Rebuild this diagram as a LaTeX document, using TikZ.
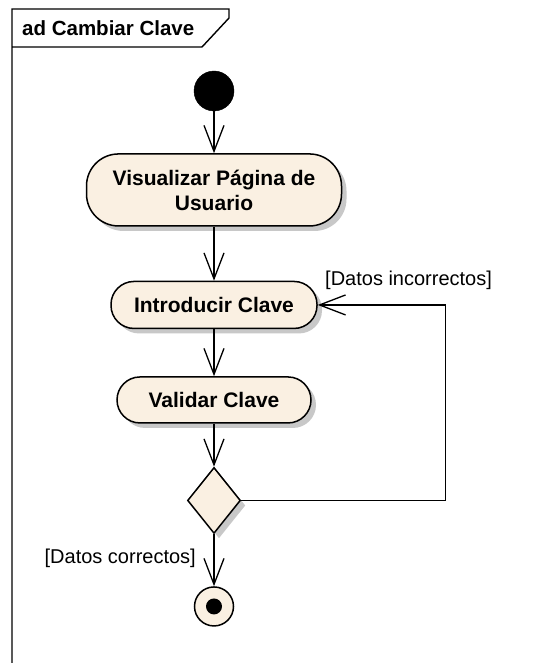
\documentclass[tikz,border=0pt]{standalone}
\usepackage{fontspec}
\setmainfont{Liberation Sans}
\usepackage{tikz}
\usetikzlibrary{arrows.meta,positioning,shapes.geometric,shadows}
\definecolor{crema}{RGB}{250,240,226}
\definecolor{sombra}{RGB}{200,200,200}
\tikzset{
    actividad/.style={
        rectangle,
        draw,
        line width=1.5pt,
        rounded corners=23pt,
        align=center,
        fill=crema,
        font=\fontsize{21}{25}\selectfont\bfseries,
        inner sep=0pt,
        drop shadow={shadow xshift=5pt, shadow yshift=-5pt, fill=sombra, opacity=1}
    },
    decision/.style={
        diamond,
        draw,
        line width=1.5pt,
        inner sep=0pt,
        minimum width=53pt,
        minimum height=66pt,
        fill=crema,
        drop shadow={shadow xshift=5pt, shadow yshift=-5pt, fill=sombra, opacity=1}
    },
    inicial/.style={circle, fill=black, draw, minimum size=40pt, inner sep=0pt},
    final/.style={
        circle, draw, line width=1.5pt, fill=crema, minimum size=39pt, inner sep=0pt,
        path picture={\fill[black] (path picture bounding box.center) circle (8pt);}
    },
    flujo/.style={-{Straight Barb[length=26pt,width=20pt]}, line width=1.3pt},
    etiqueta/.style={font=\fontsize{20}{22}\selectfont, inner sep=0pt},
    marco/.style={line width=1.4pt}
}

\begin{document}
\begin{tikzpicture}[x=1pt, y=-1pt]
    \useasboundingbox[fill=white] (0,0) rectangle (540,663);
    % marco del diagrama
    \draw[marco] (12,663) -- (12,9) -- (229,9) -- (229,18) -- (202,47) -- (12,47);
    \node[anchor=west, inner sep=0pt, font=\fontsize{20.5}{22}\selectfont\bfseries] (titulo) at (22,28) {ad Cambiar Clave};

    \node[inicial] (inicio) at (214,91) {};
    \node[actividad, below=42pt of inicio, minimum width=255pt, minimum height=72pt, rounded corners=32pt] (visualizar)
        {Visualizar Página de\\Usuario};
    \node[actividad, below=54pt of visualizar, minimum width=206pt, minimum height=47pt] (introducir) {Introducir Clave};
    \node[actividad, below=47pt of introducir, minimum width=194pt, minimum height=46pt] (validar) {Validar Clave};
    \node[decision, below=43pt of validar] (rombo) {};
    \node[final, below=52pt of rombo] (fin) {};

    \draw[flujo] (inicio) -- (visualizar);
    \draw[flujo] (visualizar) -- (introducir);
    \draw[flujo] (introducir) -- (validar);
    \draw[flujo] (validar) -- (rombo);
    \draw[flujo] (rombo) -- (fin);
    \draw[flujo] (rombo.east) -- ++(204,0) |- (introducir.east);

    \node[etiqueta, anchor=south west] (incorrectos) at (325,290) {[Datos incorrectos]};
    \node[etiqueta, anchor=east] (correctos) at (196,558) {[Datos correctos]};
\end{tikzpicture}
\end{document}
